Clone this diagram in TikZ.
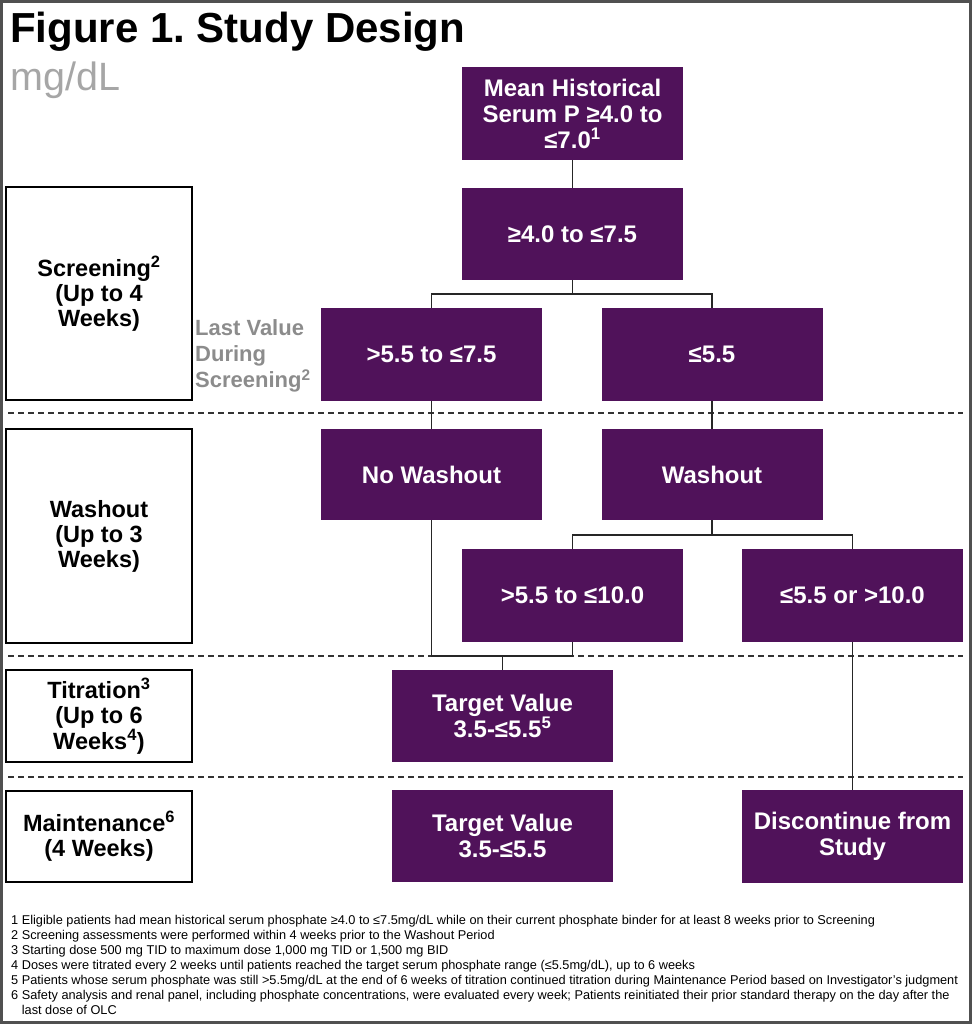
\documentclass[tikz,border=0pt]{standalone}
\usepackage{fontspec}
\setmainfont{Liberation Sans}
\frenchspacing
\definecolor{plum}{RGB}{80,18,90}
\definecolor{titlegray}{RGB}{166,166,166}
\definecolor{labgray}{RGB}{140,140,140}
\definecolor{framegray}{RGB}{80,80,80}
\begin{document}
\begin{tikzpicture}[x=1pt,y=-1pt,
  pbox/.style={fill=plum,text=white,draw=none,inner sep=0pt,align=center,
    minimum width=221pt,font=\bfseries\fontsize{24}{26}\selectfont},
  lbox/.style={draw=black,line width=2pt,fill=white,text=black,inner sep=0pt,align=center,
    minimum width=186pt,font=\bfseries\fontsize{23.5}{25}\selectfont},
  conn/.style={draw=black!85,line width=1.3pt},
  sep/.style={draw=black!80,line width=1.4pt,dash pattern=on 6pt off 4pt}]
\useasboundingbox (0,0) rectangle (972,1024);
\draw[framegray,line width=3pt] (1.5,1.5) rectangle (970.5,1022.5);
% title
\node[anchor=base west,inner sep=0pt,font=\bfseries\fontsize{42}{46}\selectfont] (title) at (10,43) {Figure 1. Study Design};
\node[anchor=base west,inner sep=0pt,text=titlegray,font=\fontsize{39.5}{42}\selectfont] (unit) at (10,91) {mg/dL};
% separators
\draw[sep] (8,413) -- (963,413);
\draw[sep] (8,656) -- (963,656);
\draw[sep] (8,777) -- (963,777);
% left phase boxes
\node[lbox,minimum height=213pt] (L1) at (99,293.5) {Screening\textsuperscript{2}\\(Up to 4\\Weeks)};
\node[lbox,minimum height=214pt] (L2) at (99,536) {Washout\\(Up to 3\\Weeks)};
\node[lbox,minimum height=92pt] (L3) at (99,716) {Titration\textsuperscript{3}\\(Up to 6\\Weeks\textsuperscript{4})};
\node[lbox,minimum height=91pt] (L4) at (99,836.5) {Maintenance\textsuperscript{6}\\(4 Weeks)};
% purple boxes
\node[pbox,minimum height=93pt] (A) at (572.5,113.5) {Mean Historical\\Serum P ≥4.0 to\\≤7.0\textsuperscript{1}};
\node[pbox,minimum height=92pt] (B) at (572.5,234) {≥4.0 to ≤7.5};
\node[pbox,minimum height=93pt] (C) at (431.5,354.5) {>5.5 to ≤7.5};
\node[pbox,minimum height=93pt] (D) at (712,354.5) {≤5.5};
\node[pbox,minimum height=91pt] (NW) at (431.5,474.5) {No Washout};
\node[pbox,minimum height=91pt] (W) at (712,474.5) {Washout};
\node[pbox,minimum height=93pt] (E) at (572.5,595.5) {>5.5 to ≤10.0};
\node[pbox,minimum height=93pt] (F) at (852.5,595.5) {≤5.5 or >10.0};
\node[pbox,minimum height=92pt] (G) at (502.5,716) {Target Value\\3.5-≤5.5\textsuperscript{5}};
\node[pbox,minimum height=92pt] (H) at (502.5,836) {Target Value\\3.5-≤5.5};
\node[pbox,minimum height=93pt] (I) at (852.5,836.5) {Discontinue from\\Study};
% side label
\node[anchor=west,inner sep=0pt,align=left,text=labgray,font=\bfseries\fontsize{22}{26}\selectfont] (lv) at (195,356) {Last Value\\During\\Screening\textsuperscript{2}};
% connectors
\coordinate (b1) at (572.5,294);
\coordinate (w1) at (712,535);
\coordinate (j) at (502.5,656);
\draw[conn] (A.south) -- (B.north);
\draw[conn] (B.south) -- (b1);
\draw[conn] (b1) -| (C.north);
\draw[conn] (b1) -| (D.north);
\draw[conn] (C.south) -- (NW.north);
\draw[conn] (D.south) -- (W.north);
\draw[conn] (W.south) -- (w1);
\draw[conn] (w1) -| (E.north);
\draw[conn] (w1) -| (F.north);
\draw[conn] (NW.south) |- (j);
\draw[conn] (j) -| (E.south);
\draw[conn] (j) -- (G.north);
\draw[conn] (F.south) -- (I.north);
% footnotes
\node[anchor=north west,inner sep=0pt,align=left,font=\fontsize{12.75}{15}\selectfont] (notes) at (11,915) {1 Eligible patients had mean historical serum phosphate ≥4.0 to ≤7.5mg/dL while on their current phosphate binder for at least 8 weeks prior to Screening\\
2 Screening assessments were performed within 4 weeks prior to the Washout Period\\
3 Starting dose 500 mg TID to maximum dose 1,000 mg TID or 1,500 mg BID\\
4 Doses were titrated every 2 weeks until patients reached the target serum phosphate range (≤5.5mg/dL), up to 6 weeks\\
5 Patients whose serum phosphate was still >5.5mg/dL at the end of 6 weeks of titration continued titration during Maintenance Period based on Investigator’s judgment\\
6 Safety analysis and renal panel, including phosphate concentrations, were evaluated every week; Patients reinitiated their prior standard therapy on the day after the\\
\phantom{6 }last dose of OLC};
\end{tikzpicture}
\end{document}
